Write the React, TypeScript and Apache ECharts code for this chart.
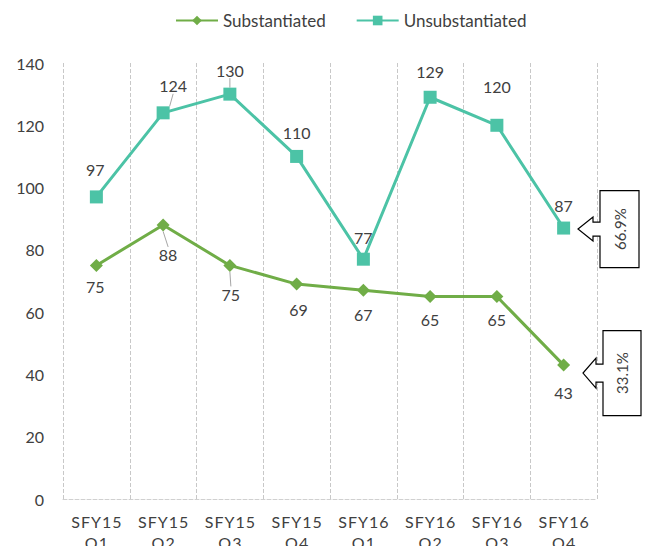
import React, { useEffect, useRef } from "react";
import * as echarts from "echarts";

const categories = ["SFY15 Q1", "SFY15 Q2", "SFY15 Q3", "SFY15 Q4", "SFY16 Q1", "SFY16 Q2", "SFY16 Q3", "SFY16 Q4"];
const substantiated = [75, 88, 75, 69, 67, 65, 65, 43];
const unsubstantiated = [97, 124, 130, 110, 77, 129, 120, 87];
const shareLabels = ["66.9%", "33.1%"];
const yTicks = { min: 0, max: 140, interval: 20 };

// label offsets and leader-line flags (style only)
const subLabelOffsets = [[-1, 21], [5, 30], [1, 29], [2, 25], [0, 24], [0, 23], [0, 23], [0, 27]];
const unsubLabelOffsets = [[-1, -27], [10, -27], [0, -24], [0, -24], [0, -22], [0, -26], [0, -39], [0, -23]];
const subLeaders = [false, true, true, false, false, false, false, false];
const unsubLeaders = [false, true, true, false, false, false, false, false];

const GREEN = "#70AD47";
const TEAL = "#4CC3A6";
const TXT = "#404040";
const FONT = "Lato";

const spaced = (s: string) => s.split("").join("\u200A");

export default function App() {
  const ref = useRef<HTMLDivElement>(null);
  useEffect(() => {
    document.body.style.margin = "0";
    if (!ref.current) return;
    const chart = echarts.init(ref.current, undefined, { renderer: "svg" });
    const leaderStyle = { color: "#a6a6a6", width: 1 };
    chart.setOption({
      animation: false,
      textStyle: { fontFamily: FONT },
      legend: {
        top: 7,
        left: 170,
        itemWidth: 42,
        itemHeight: 12,
        itemGap: 30,
        textStyle: { fontFamily: FONT, fontSize: 17, color: TXT },
        data: ["Substantiated", "Unsubstantiated"],
      },
      grid: { left: 63, width: 534, top: 63, height: 436, containLabel: false, outerBoundsMode: "none" },
      xAxis: {
        type: "category",
        data: categories,
        boundaryGap: true,
        axisLine: { show: true, lineStyle: { color: "#d0d0d0", type: "dashed" } },
        axisTick: { show: false },
        splitLine: { show: true, interval: 0, lineStyle: { color: "#c8c8c8", type: "dashed", width: 1 } },
        axisLabel: {
          interval: 0,
          margin: 12,
          color: TXT,
          fontFamily: FONT,
          fontSize: 16,
          lineHeight: 21,
          formatter: (v: string) => v.split(" ").map(spaced).join("\n"),
        },
      },
      yAxis: {
        type: "value",
        min: yTicks.min,
        max: yTicks.max,
        interval: yTicks.interval,
        axisLine: { show: false },
        axisTick: { show: false },
        splitLine: { show: false },
        axisLabel: { color: TXT, fontFamily: FONT, fontSize: 16, margin: 19 },
      },
      series: [
        {
          name: "Substantiated",
          type: "line",
          data: substantiated.map((v, i) => ({ value: v, labelLine: { show: subLeaders[i], lineStyle: leaderStyle } })),
          symbol: "diamond",
          symbolSize: 13,
          lineStyle: { color: GREEN, width: 3 },
          itemStyle: { color: GREEN },
          label: {
            show: true,
            position: "inside",
            color: TXT,
            fontFamily: FONT,
            fontSize: 16,
          },
          labelLayout: (p: any) => ({ dx: subLabelOffsets[p.dataIndex][0], dy: subLabelOffsets[p.dataIndex][1] }),
        },
        {
          name: "Unsubstantiated",
          type: "line",
          data: unsubstantiated.map((v, i) => ({ value: v, labelLine: { show: unsubLeaders[i], lineStyle: leaderStyle } })),
          symbol: "rect",
          symbolSize: 13,
          lineStyle: { color: TEAL, width: 3 },
          itemStyle: { color: TEAL },
          label: {
            show: true,
            position: "inside",
            color: TXT,
            fontFamily: FONT,
            fontSize: 16,
          },
          labelLayout: (p: any) => ({ dx: unsubLabelOffsets[p.dataIndex][0], dy: unsubLabelOffsets[p.dataIndex][1] }),
        },
      ],
    });

    const last = categories.length - 1;
    const yU = chart.convertToPixel({ yAxisIndex: 0 }, unsubstantiated[last]) as number;
    const yS = chart.convertToPixel({ yAxisIndex: 0 }, substantiated[last]) as number;

    const callout = (ty: number, tipX: number, headX: number, boxL: number, boxR: number, halfH: number, headH: number, shaftH: number, text: string) => [
      {
        type: "polygon",
        shape: {
          points: [
            [boxL, ty - halfH], [boxR, ty - halfH], [boxR, ty + halfH], [boxL, ty + halfH],
            [boxL, ty + shaftH], [headX, ty + shaftH], [headX, ty + headH], [tipX, ty],
            [headX, ty - headH], [headX, ty - shaftH], [boxL, ty - shaftH],
          ],
        },
        style: { fill: "#ffffff", stroke: "#000000", lineWidth: 1.2 },
        z: 10,
      },
      {
        type: "text",
        x: (boxL + boxR) / 2,
        y: ty,
        rotation: Math.PI / 2,
        style: {
          text,
          fill: TXT,
          font: `15px ${FONT}`,
          textAlign: "center",
          textVerticalAlign: "middle",
        },
        z: 11,
      },
    ];

    chart.setOption({
      graphic: [
        ...callout(yU + 1, 578, 593, 600, 639, 38.5, 12, 7, shareLabels[0]),
        ...callout(yS + 8, 583, 596, 603, 641, 42.5, 15, 9, shareLabels[1]),
      ],
    });

    return () => chart.dispose();
  }, []);
  return <div ref={ref} style={{ width: 647, height: 546 }} />;
}
